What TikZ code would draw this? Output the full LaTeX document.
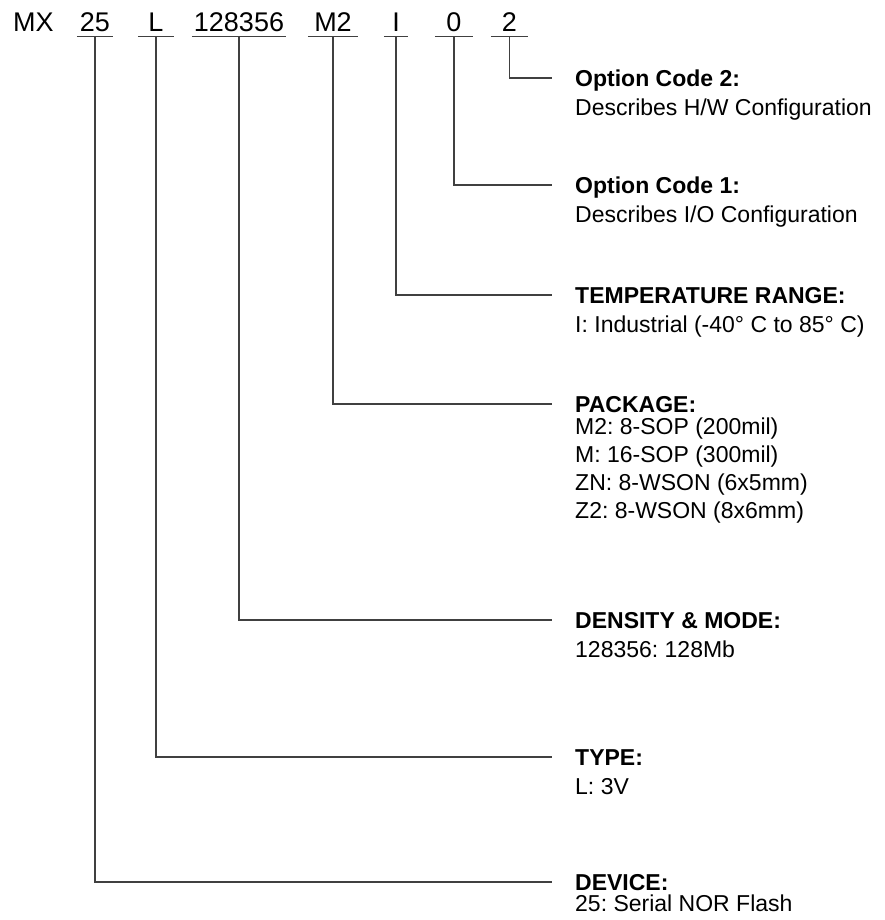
\documentclass[tikz,border=0pt]{standalone}
\usepackage{fontspec}
\setmainfont{Liberation Sans}
\frenchspacing
\begin{document}
\begin{tikzpicture}[x=1bp,y=-1bp,
  part/.style={font=\fontsize{27bp}{30bp}\selectfont, inner sep=0pt, text depth=5.5bp, anchor=base},
  ttl/.style={font=\fontsize{23bp}{27bp}\selectfont\bfseries, inner sep=0pt, anchor=base west},
  dsc/.style={font=\fontsize{23bp}{27bp}\selectfont, inner sep=0pt, anchor=base west},
  conn/.style={draw=black!75, line width=1.1bp}]
\useasboundingbox (0,0) rectangle (885,920);
% header
\node[font=\fontsize{27bp}{30bp}\selectfont, inner sep=0pt, anchor=base west] (mx) at (13,31) {MX};
\node[part, minimum width=36bp] (p25) at (95,31) {25};
\node[part, minimum width=36bp] (pL) at (156,31) {L};
\node[part, minimum width=94bp] (pD) at (239,31) {128356};
\node[part, minimum width=50bp] (pM) at (333,31) {M2};
\node[part, minimum width=24bp] (pI) at (396,31) {I};
\node[part, minimum width=38bp] (p0) at (454,31) {0};
\node[part, minimum width=37bp] (p2) at (509.5,31) {2};
\foreach \n in {p25,pL,pD,pM,pI,p0,p2}
  \draw[conn] (\n.south west) -- (\n.south east);
% line ends
\coordinate (e2) at (552,78);
\coordinate (e0) at (552,185);
\coordinate (eI) at (552,295);
\coordinate (eM) at (552,404);
\coordinate (eD) at (552,620);
\coordinate (eL) at (552,757);
\coordinate (e25) at (552,882);
\draw[conn] (p2.south) |- (e2);
\draw[conn] (p0.south) |- (e0);
\draw[conn] (pI.south) |- (eI);
\draw[conn] (pM.south) |- (eM);
\draw[conn] (pD.south) |- (eD);
\draw[conn] (pL.south) |- (eL);
\draw[conn] (p25.south) |- (e25);
% labels
\node[ttl] (t2) at (575,86) {Option Code 2:};
\node[dsc] (d2) at (575,115) {Describes H/W Configuration};
\node[ttl] (t0) at (575,193) {Option Code 1:};
\node[dsc] (d0) at (575,222) {Describes I/O Configuration};
\node[ttl] (tI) at (575,303) {TEMPERATURE RANGE:};
\node[dsc] (dI) at (575,332) {I: Industrial (-40° C to 85° C)};
\node[ttl] (tM) at (575,412) {PACKAGE:};
\node[dsc] (dM1) at (575,434) {M2: 8-SOP (200mil)};
\node[dsc] (dM2) at (575,462) {M: 16-SOP (300mil)};
\node[dsc] (dM3) at (575,490) {ZN: 8-WSON (6x5mm)};
\node[dsc] (dM4) at (575,518) {Z2: 8-WSON (8x6mm)};
\node[ttl] (tD) at (575,628) {DENSITY \& MODE:};
\node[dsc] (dD) at (575,657) {128356: 128Mb};
\node[ttl] (tL) at (575,765) {TYPE:};
\node[dsc] (dL) at (575,794) {L: 3V};
\node[ttl] (t25) at (575,890) {DEVICE:};
\node[dsc] (d25) at (575,911) {25: Serial NOR Flash};
\end{tikzpicture}
\end{document}
